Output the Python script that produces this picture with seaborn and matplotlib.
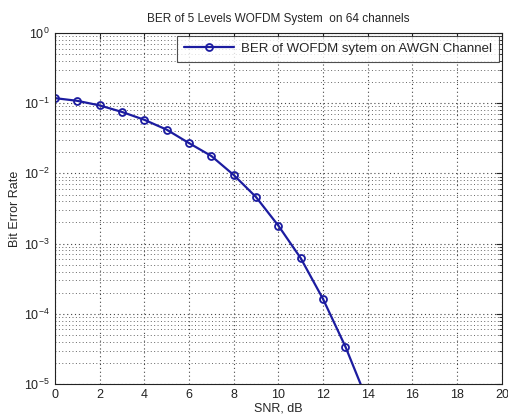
import seaborn as sns
import matplotlib
matplotlib.use("Agg")
import matplotlib.pyplot as plt
import matplotlib.ticker as mticker
import pandas as pd

# BER values
snr_db = [0, 1, 2, 3, 4, 5, 6, 7, 8, 9, 10, 11, 12, 13, 14]
ber = [0.118, 0.108, 0.093, 0.075, 0.058, 0.042, 0.027, 0.0177, 0.0095,
       0.0046, 0.0018, 0.00062, 0.000162, 3.4e-5, 5.6e-6]

data = pd.DataFrame({"SNR": snr_db, "BER": ber})

sns.set_style("white")
plt.rcParams['font.family'] = ['Liberation Sans', 'DejaVu Sans']

fig = plt.figure(figsize=(5.08, 4.17), dpi=100)
ax = fig.add_axes([0.108, 0.079, 0.880, 0.842])

sns.lineplot(x="SNR", y="BER", data=data, ax=ax, color="#1c1ca0", linewidth=1.6,
             marker="o", markersize=5, markerfacecolor="none",
             markeredgecolor="#1c1ca0", markeredgewidth=1.3,
             label="BER of WOFDM sytem on AWGN Channel")

ax.set_yscale("log")
ax.set_xlim(0, 20)
ax.set_ylim(1e-5, 1)
ax.set_xticks(range(0, 21, 2))
ax.yaxis.set_major_locator(mticker.LogLocator(base=10, numticks=10))
ax.yaxis.set_minor_locator(mticker.LogLocator(base=10, subs=range(2, 10), numticks=50))
ax.yaxis.set_minor_formatter(mticker.NullFormatter())

ax.grid(True, which="major", linestyle=(0, (1, 2.5)), color="#444444", linewidth=0.8)
ax.grid(True, which="minor", axis="y", linestyle=(0, (1, 2.5)), color="#666666", linewidth=0.7)

ax.tick_params(axis="both", which="both", direction="in", top=True, right=True,
               labelsize=9, colors="#222222")
ax.tick_params(which="major", length=4)
ax.tick_params(which="minor", length=2)
for s in ax.spines.values():
    s.set_color("#222222")
    s.set_linewidth(0.8)

ax.set_title("BER of 5 Levels WOFDM System  on 64 channels", fontsize=8.5, pad=8)
ax.set_xlabel("SNR, dB", fontsize=9, labelpad=1)
ax.set_ylabel("Bit Error Rate", fontsize=9, labelpad=2)

leg = ax.legend(loc="upper right", fontsize=9.5, frameon=True, fancybox=False,
                borderaxespad=0.2, handlelength=3.8, borderpad=0.55, handletextpad=0.5)
leg.get_frame().set_edgecolor("#222222")
leg.get_frame().set_linewidth(0.8)

fig.savefig("out.png", dpi=100)
